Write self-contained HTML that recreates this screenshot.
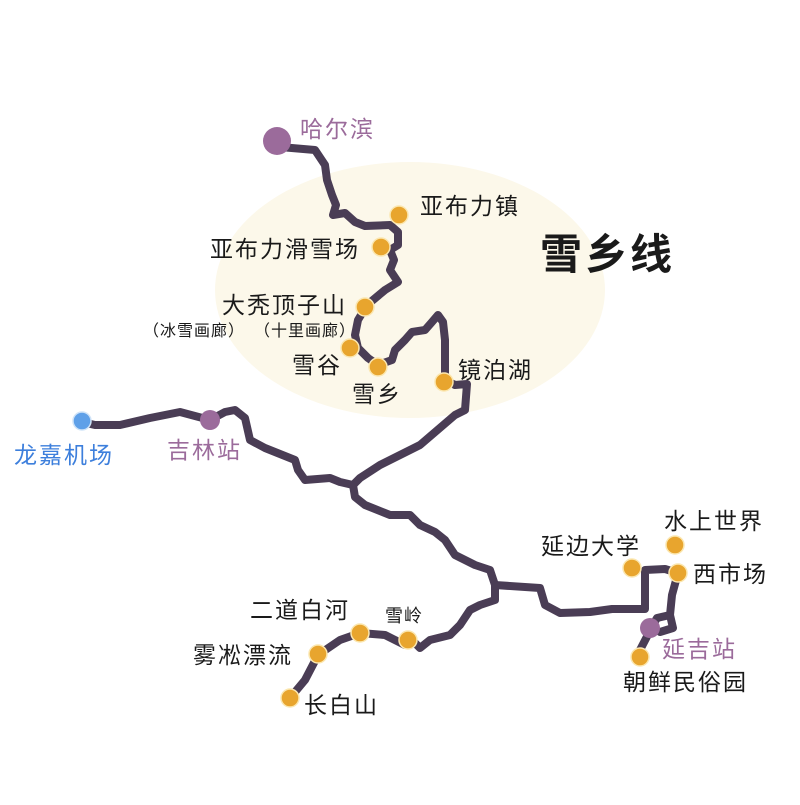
<!DOCTYPE html>
<html><head><meta charset="utf-8"><style>
html,body{margin:0;padding:0;background:#fff}
svg text{font-family:"Liberation Sans","Noto Sans CJK SC",sans-serif;fill:#1a1a1a}
</style></head><body>
<svg width="800" height="800" viewBox="0 0 800 800" xmlns="http://www.w3.org/2000/svg">
<ellipse cx="410" cy="290" rx="195" ry="128" fill="#fcf8ea"/>
<g fill="none" stroke="#4a3d55" stroke-width="8" stroke-linejoin="round" stroke-linecap="round">
<path d="M280,147 L315,150 L325,165 L327,180 L332,195 L336,205 L333,215 L345,213 L355,222 L365,226 L390,225 L398,232 L398,245 L390,250 L394,260 L390,270 L398,282 L385,290 L367,305 L358,320 L355,335 L358,348 L368,358 L378,365 L392,360 L395,350 L405,340 L412,332 L425,330 L432,322 L438,315 L443,322 L445,340 L445,380 L455,385 L467,384 L465,410 L455,415 L420,445 L410,450 L400,455 L380,465 L360,478 L353,485"/>
<path d="M353,485 L355,497 L365,505 L390,515 L410,515 L420,525 L435,532 L445,540 L455,555 L475,565 L490,570 L495,585 L495,600 L480,605 L470,610 L460,625 L450,635 L430,640 L420,648 L415,643 L405,645 L385,635 L360,633 L340,640 L318,655 L305,680 L290,698"/>
<path d="M353,485 L340,482 L330,478 L305,480 L298,470 L295,460 L265,448 L250,440 L245,418 L235,410 L225,412 L210,420 L180,412 L150,418 L120,425 L95,425 L82,422"/>
<path d="M495,585 L540,588 L545,605 L560,613 L590,612 L612,609 L645,609 L645,570 L665,569 L678,573 L672,595 L670,615 L657,618 L653,625 L640,650"/>
<path d="M670,615 L673,628 L660,632"/>
</g>
<circle cx="277" cy="141" r="14" fill="#9b6b9b"/>
<circle cx="210" cy="420" r="10" fill="#9b6b9b"/>
<circle cx="82" cy="421" r="9" fill="#5fa0e8" stroke="#cfe3f8" stroke-width="1.5"/>
<circle cx="650" cy="628" r="10" fill="#9b6b9b"/>
<g fill="#e8a52e" stroke="#fbe7b0" stroke-width="1.5">
<circle cx="399" cy="215" r="9"/><circle cx="381" cy="247" r="9"/><circle cx="365" cy="307" r="9"/>
<circle cx="350" cy="348" r="9"/><circle cx="378" cy="367" r="9"/><circle cx="444" cy="382" r="9"/>
<circle cx="360" cy="633" r="9"/><circle cx="408" cy="640" r="9"/><circle cx="318" cy="654" r="9"/>
<circle cx="290" cy="698" r="9"/><circle cx="632" cy="568" r="9"/><circle cx="675" cy="545" r="9"/>
<circle cx="678" cy="573" r="9"/><circle cx="640" cy="657" r="9"/>
</g>
<g font-size="23" letter-spacing="2">
<text x="300" y="137" style="fill:#9b6b9b">哈尔滨</text>
<text x="420" y="214">亚布力镇</text>
<text x="210" y="257">亚布力滑雪场</text>
<text x="222" y="313">大秃顶子山</text>
<text x="143" y="336" font-size="16" letter-spacing="1">（冰雪画廊）</text>
<text x="254" y="336" font-size="16" letter-spacing="1">（十里画廊）</text>
<text x="292" y="373">雪谷</text>
<text x="352" y="402">雪乡</text>
<text x="458" y="378">镜泊湖</text>
<text x="540" y="269" font-size="42" font-weight="bold" letter-spacing="3">雪乡线</text>
<text x="14" y="463" style="fill:#3d7fdc">龙嘉机场</text>
<text x="167" y="458" style="fill:#9b6b9b">吉林站</text>
<text x="250" y="618">二道白河</text>
<text x="385" y="622" font-size="18" letter-spacing="1">雪岭</text>
<text x="193" y="663">雾凇漂流</text>
<text x="304" y="713">长白山</text>
<text x="541" y="554">延边大学</text>
<text x="664" y="529">水上世界</text>
<text x="693" y="582">西市场</text>
<text x="662" y="657" style="fill:#9b6b9b">延吉站</text>
<text x="623" y="690">朝鲜民俗园</text>
</g>
</svg>
</body></html>
